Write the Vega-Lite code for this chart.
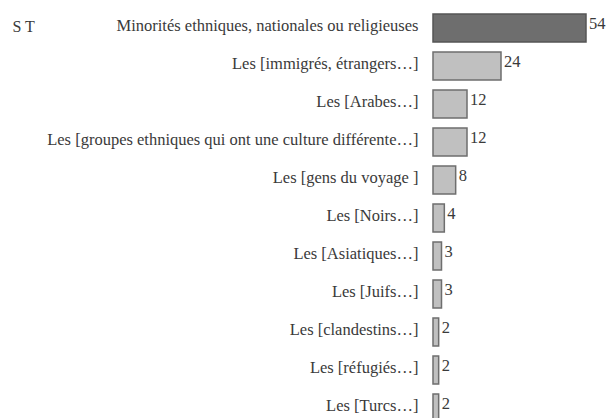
{
  "$schema": "https://vega.github.io/schema/vega-lite/v6.json",
  "autosize": {"type": "none"},
  "width": 170,
  "height": 418,
  "padding": {"left": 433, "top": 9, "right": 5, "bottom": 0},
  "background": "white",
  "config": {"view": {"stroke": null}, "font": "serif"},
  "data": {"values": [
    {"label": "Minorités ethniques, nationales ou religieuses", "value": 54, "kind": "total"},
    {"label": "Les [immigrés, étrangers…]", "value": 24, "kind": "detail"},
    {"label": "Les [Arabes…]", "value": 12, "kind": "detail"},
    {"label": "Les [groupes ethniques qui ont une culture différente…]", "value": 12, "kind": "detail"},
    {"label": "Les [gens du voyage   ]", "value": 8, "kind": "detail"},
    {"label": "Les [Noirs…]", "value": 4, "kind": "detail"},
    {"label": "Les [Asiatiques…]", "value": 3, "kind": "detail"},
    {"label": "Les [Juifs…]", "value": 3, "kind": "detail"},
    {"label": "Les [clandestins…]", "value": 2, "kind": "detail"},
    {"label": "Les [réfugiés…]", "value": 2, "kind": "detail"},
    {"label": "Les [Turcs…]", "value": 2, "kind": "detail"}
  ]},
  "encoding": {
    "y": {
      "field": "label", "type": "nominal", "sort": null,
      "scale": {"paddingInner": 0.263, "paddingOuter": 0.1316},
      "axis": {
        "title": "S T", "titleAngle": 0, "titleX": -421, "titleY": 17,
        "titleAlign": "left", "titleBaseline": "middle", "titleFontWeight": "normal",
        "titleFontSize": 16, "titleColor": "#3a3a3a", "titleFont": "serif",
        "domain": false, "ticks": false, "labelPadding": 15, "labelFontSize": 16.5,
        "labelColor": "#3a3a3a", "labelFont": "serif", "labelLimit": 500, "labelOffset": -2
      }
    },
    "x": {"field": "value", "type": "quantitative", "scale": {"domain": [0, 60]}, "axis": null}
  },
  "layer": [
    {
      "mark": {"type": "bar", "strokeWidth": 1.5},
      "encoding": {
        "fill": {"field": "kind", "type": "nominal", "scale": {"domain": ["total", "detail"], "range": ["#6e6e6e", "#c0c0c0"]}, "legend": null},
        "stroke": {"field": "kind", "type": "nominal", "scale": {"domain": ["total", "detail"], "range": ["#555555", "#6e6e6e"]}, "legend": null}
      }
    },
    {
      "mark": {"type": "text", "align": "left", "baseline": "middle", "dx": 3, "dy": -4, "fontSize": 16.5, "color": "#3a3a3a", "font": "serif"},
      "encoding": {"text": {"field": "value", "type": "quantitative"}}
    }
  ]
}
